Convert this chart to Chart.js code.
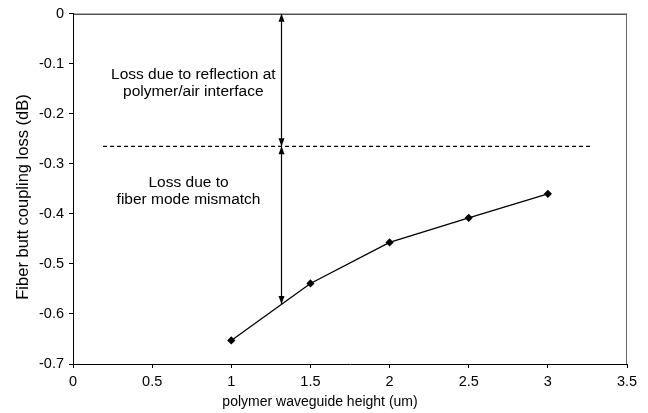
<!DOCTYPE html>
<html><head><meta charset="utf-8">
<script src="https://cdn.jsdelivr.net/npm/chart.js@4/dist/chart.umd.min.js"></script>
<style>html,body{margin:0;padding:0;background:#fff}#wrap{width:648px;height:413px}</style>
</head><body><div id="wrap"><canvas id="c" width="648" height="413"></canvas></div>
<script>
const heights = [1, 1.5, 2, 2.5, 3];
const lossValues = [-0.653, -0.539, -0.457, -0.408, -0.360];
const interfaceLevel = -0.265;
const interfaceSpan = [0.19, 3.28];
const arrowX = 1.314;
const arrowUpper = [0, -0.265];
const arrowLower = [-0.265, -0.580];
const xTickLabels = ["0","0.5","1","1.5","2","2.5","3","3.5"];
const yTickLabels = ["0","-0.1","-0.2","-0.3","-0.4","-0.5","-0.6","-0.7"];
const xTitle = "polymer waveguide height (um)";
const yTitle = "Fiber butt coupling loss (dB)";
const notes = [
  {x: 0.76, y: -0.121, text: "Loss due to reflection at"},
  {x: 0.76, y: -0.155, text: "polymer/air interface"},
  {x: 0.73, y: -0.338, text: "Loss due to"},
  {x: 0.73, y: -0.372, text: "fiber mode mismatch"}
];
const FONT = "Liberation Sans, Arial, sans-serif";

const overlay = {
  id: 'overlay',
  afterDatasetsDraw(chart) {
    const ctx = chart.ctx, xs = chart.scales.x, ys = chart.scales.y, a = chart.chartArea;
    ctx.save();
    // box
    ctx.strokeStyle = '#000'; ctx.lineWidth = 1;
    ctx.beginPath();
    ctx.moveTo(a.left, a.top + 0.5); ctx.lineTo(a.right, a.top + 0.5);
    ctx.stroke();
    ctx.strokeStyle = '#666';
    ctx.beginPath();
    ctx.moveTo(a.right - 0.5, a.top); ctx.lineTo(a.right - 0.5, a.bottom);
    ctx.stroke();
    // arrows
    const px = Math.round(xs.getPixelForValue(arrowX)) + 0.5;
    function arrow(v0, v1) {
      const y0 = ys.getPixelForValue(v0), y1 = ys.getPixelForValue(v1);
      ctx.strokeStyle = '#000'; ctx.fillStyle = '#000'; ctx.lineWidth = 1.2;
      ctx.beginPath(); ctx.moveTo(px, y0); ctx.lineTo(px, y1); ctx.stroke();
      [[y0, 1], [y1, -1]].forEach(([y, d]) => {
        ctx.beginPath();
        ctx.moveTo(px, y);
        ctx.lineTo(px - 3, y + d * 8);
        ctx.lineTo(px + 3, y + d * 8);
        ctx.closePath(); ctx.fill();
      });
    }
    arrow(arrowUpper[0], arrowUpper[1]);
    arrow(arrowLower[0], arrowLower[1]);
    // notes
    ctx.fillStyle = '#000';
    ctx.font = '15.5px ' + FONT;
    ctx.textAlign = 'center'; ctx.textBaseline = 'middle';
    notes.forEach(n => ctx.fillText(n.text, xs.getPixelForValue(n.x), ys.getPixelForValue(n.y)));
    // axis titles
    ctx.font = '14px ' + FONT;
    ctx.fillText(xTitle, 320, 402);
    ctx.translate(23, 197);
    ctx.rotate(-Math.PI / 2);
    ctx.font = '16.5px ' + FONT;
    ctx.fillText(yTitle, 0, 0);
    ctx.restore();
  }
};

new Chart(document.getElementById('c'), {
  type: 'scatter',
  data: {
    datasets: [
      {
        data: heights.map((h, i) => ({x: h, y: lossValues[i]})),
        showLine: true, borderColor: '#000', borderWidth: 1.3,
        pointStyle: 'rectRot', pointRadius: 3.2, pointBackgroundColor: '#000', pointBorderColor: '#000'
      },
      {
        data: interfaceSpan.map(x => ({x: x, y: interfaceLevel})),
        showLine: true, borderColor: '#000', borderWidth: 1.2, borderDash: [4, 3],
        pointRadius: 0
      }
    ]
  },
  plugins: [overlay],
  options: {
    responsive: false, animation: false,
    layout: {padding: {left: 0, right: 21, top: 12, bottom: 0}},
    plugins: {legend: {display: false}, tooltip: {enabled: false}},
    scales: {
      x: {
        type: 'linear', min: 0, max: 3.5,
        afterFit(s) { s.height = 49; },
        ticks: {stepSize: 0.5, color: '#000', font: {family: FONT, size: 14.5}, padding: 5,
          callback: (v, i) => xTickLabels[i]},
        grid: {drawOnChartArea: false, drawTicks: true, tickLength: 4, color: '#000'},
        border: {display: true, color: '#000', width: 1},
        title: {display: false}
      },
      y: {
        type: 'linear', min: -0.7, max: 0,
        afterFit(s) { s.width = 73; },
        ticks: {stepSize: 0.1, color: '#000', font: {family: FONT, size: 14.5}, padding: 5,
          callback: (v, i, arr) => yTickLabels[arr.length - 1 - i]},
        grid: {drawOnChartArea: false, drawTicks: true, tickLength: 4, color: '#000'},
        border: {display: true, color: '#000', width: 1},
        title: {display: false}
      }
    }
  }
});
</script></body></html>
